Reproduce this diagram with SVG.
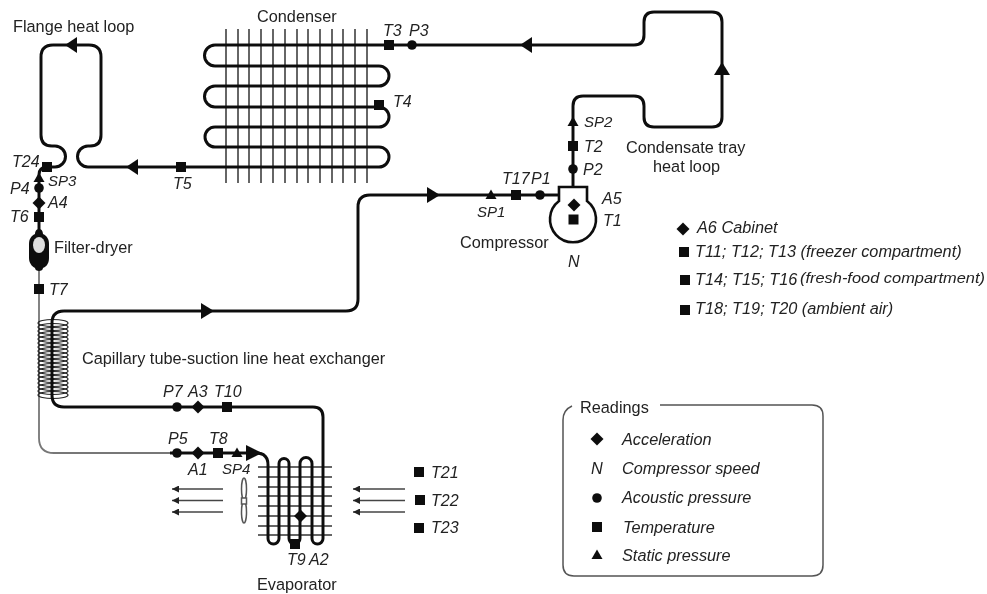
<svg xmlns="http://www.w3.org/2000/svg" width="987" height="594" viewBox="0 0 987 594">
<style>
text{font-family:"Liberation Sans",Arial,sans-serif;font-size:16.3px;fill:#222}
.i{font-style:italic;font-size:16px}
.s{font-style:italic;font-size:15px}
.l{font-style:italic;font-size:16.3px}
.tube{fill:none;stroke:#111;stroke-width:3}
.fin{fill:none;stroke:#666;stroke-width:2}
.thin{fill:none;stroke:#777;stroke-width:1.8}
.coil{fill:none;stroke:#222;stroke-width:1.2}
.air{stroke:#444;stroke-width:1.6;marker-start:url(#h)}
.k{fill:#111}
</style>
<defs>
<filter id="soft" x="0" y="0" width="100%" height="100%"><feGaussianBlur stdDeviation="0.45"/></filter>
<marker id="h" viewBox="0 0 8 8" refX="0" refY="4" markerWidth="7" markerHeight="7" markerUnits="userSpaceOnUse" orient="0"><path d="M8 0V8L0 4Z" fill="#222"/></marker>
<rect id="sq" x="-5" y="-5" width="10" height="10" fill="#111"/>
<circle id="ci" r="4.800" fill="#111"/>
<path id="di" d="M0-6.500L6.500 0L0 6.500L-6.500 0Z" fill="#111"/>
<path id="tr" d="M0-5.500L5.500 4H-5.500Z" fill="#111"/>
</defs>
<rect width="987" height="594" fill="#fff"/>
<g filter="url(#soft)">
<g id="connectors">
<g id="condenser-fins" class="fin">
<path d="M226 29V183M238 29V183M249 29V183M261 29V183M273 29V183M285 29V183M297 29V183M308 29V183M320 29V183M332 29V183M343 29V183M355 29V183M367 29V183"/>
</g>
<g id="evaporator-fins" class="fin">
<path d="M258 467H332M258 477H332M258 487H332M258 496H332M258 506H332M258 516H332M258 526H332M258 535H332"/>
</g>
<path class="tube" d="M88 146A10.500 10.500 0 0 0 88 167H379A10 10 0 0 0 379 147H215A10 10 0 0 1 215 127H379A10 10 0 0 0 379 107H215A10.500 10.500 0 0 1 215 86H379A10 10 0 0 0 379 66H215A10.500 10.500 0 0 1 215 45H634Q644 45 644 35V22Q644 12 654 12H712Q722 12 722 22V117Q722 127 712 127H654Q644 127 644 117V106Q644 96 634 96H583Q573 96 573 106V187"/>
<path class="tube" d="M88 146H90Q101 146 101 135V57Q101 45 89 45H53Q41 45 41 57V135Q41 146 52 146H55A10.500 10.500 0 0 1 55 167H47Q39 167 39 175V232"/>
<path class="thin" d="M39 232V438Q39 453 54 453H170"/>
<g id="capillary-coil" class="coil">
<ellipse cx="53" cy="323" rx="15" ry="3.500"/><ellipse cx="53" cy="327" rx="15" ry="3.500"/><ellipse cx="53" cy="331" rx="15" ry="3.500"/><ellipse cx="53" cy="335" rx="15" ry="3.500"/><ellipse cx="53" cy="339" rx="15" ry="3.500"/><ellipse cx="53" cy="343" rx="15" ry="3.500"/><ellipse cx="53" cy="347" rx="15" ry="3.500"/><ellipse cx="53" cy="351" rx="15" ry="3.500"/><ellipse cx="53" cy="355" rx="15" ry="3.500"/><ellipse cx="53" cy="359" rx="15" ry="3.500"/><ellipse cx="53" cy="363" rx="15" ry="3.500"/><ellipse cx="53" cy="367" rx="15" ry="3.500"/><ellipse cx="53" cy="371" rx="15" ry="3.500"/><ellipse cx="53" cy="375" rx="15" ry="3.500"/><ellipse cx="53" cy="379" rx="15" ry="3.500"/><ellipse cx="53" cy="383" rx="15" ry="3.500"/><ellipse cx="53" cy="387" rx="15" ry="3.500"/><ellipse cx="53" cy="391" rx="15" ry="3.500"/><ellipse cx="53" cy="395" rx="15" ry="3.500"/>
</g>
<path class="tube" d="M559 195H370Q358 195 358 207V299Q358 311 346 311H64Q52 311 52 323V395Q52 407 64 407H313Q323 407 323 417V538.500A5.500 5.500 0 0 1 312 538.500V463.500A6 6 0 0 0 300 463.500V538.500A5.500 5.500 0 0 1 289 538.500V463.500A5 5 0 0 0 279 463.500V538.500A5.500 5.500 0 0 1 268 538.500V465Q268 453 256 453H170"/>
<g id="airflow">
<path class="air" d="M172 489H223"/><path class="air" d="M172 500.500H223"/><path class="air" d="M172 512H223"/>
<path class="air" d="M353 489H405"/><path class="air" d="M353 500.500H405"/><path class="air" d="M353 512H405"/>
</g>
<g id="flow-arrows" class="k">
<path d="M65 45L77 37V53Z"/>
<path d="M126 167L138 159V175Z"/>
<path d="M520 45L532 37V53Z"/>
<path d="M714 75H730L722 62Z"/>
<path d="M427 187L440 195L427 203Z"/>
<path d="M201 303L214 311L201 319Z"/>
<path d="M246 445L262 453L246 461Z"/>
</g>
</g>
<g id="compressor">
<path d="M559 201V187H587V201A23 23 0 1 1 559 201Z" fill="#fff" stroke="#111" stroke-width="2.600"/>
<use href="#di" x="574" y="205"/><use href="#sq" x="573.500" y="219.500"/>
<text class="i" x="602" y="204">A5</text><text class="i" x="603" y="226">T1</text>
<text x="460" y="248">Compressor</text><text class="i" x="568" y="267">N</text>
</g>
<g id="filter-dryer">
<path d="M39 229C36 229 35 232 35 234C31 236 29 239 29 244V258C29 264 33 267 35 268C35 270 37 271 39 271C41 271 43 270 43 268C46 267 49 264 49 258V244C49 239 47 236 43 234C43 232 42 229 39 229Z" fill="#111"/>
<ellipse cx="39" cy="245" rx="6" ry="8" fill="#ddd"/>
<text x="54" y="253">Filter-dryer</text>
</g>
<g id="sensors">
<use href="#sq" x="47" y="167"/><use href="#tr" x="39" y="178"/><use href="#ci" x="39" y="188"/><use href="#di" x="39" y="203"/><use href="#sq" x="39" y="217"/><use href="#sq" x="39" y="289"/>
<use href="#sq" x="181" y="167"/><use href="#sq" x="389" y="45"/><use href="#ci" x="412" y="45"/><use href="#sq" x="379" y="105"/>
<use href="#tr" x="573" y="122"/><use href="#sq" x="573" y="146"/><use href="#ci" x="573" y="169"/>
<use href="#tr" x="491" y="195"/><use href="#sq" x="516" y="195"/><use href="#ci" x="540" y="195"/>
<use href="#ci" x="177" y="407"/><use href="#di" x="198" y="407"/><use href="#sq" x="227" y="407"/>
<use href="#ci" x="177" y="453"/><use href="#di" x="198" y="453"/><use href="#sq" x="218" y="453"/><use href="#tr" x="237" y="453"/>
<use href="#di" x="300.500" y="516"/><use href="#sq" x="295" y="544"/>
<use href="#sq" x="419" y="472"/><use href="#sq" x="420" y="500"/><use href="#sq" x="419" y="528"/>
</g>
<g id="fan" fill="#fff" stroke="#555" stroke-width="1.500">
<ellipse cx="244" cy="489" rx="2.500" ry="11"/><ellipse cx="244" cy="512" rx="2.500" ry="11"/><rect x="241.500" y="498" width="5" height="6"/>
</g>
<g id="labels">
<text x="13" y="32">Flange heat loop</text>
<text x="257" y="22">Condenser</text>
<text class="i" x="383" y="36">T3</text><text class="i" x="409" y="36">P3</text><text class="i" x="393" y="107">T4</text>
<text class="i" x="12" y="167">T24</text><text class="s" x="48" y="186">SP3</text><text class="i" x="10" y="194">P4</text><text class="i" x="48" y="208">A4</text><text class="i" x="10" y="222">T6</text><text class="i" x="49" y="295">T7</text>
<text class="i" x="173" y="189">T5</text>
<text class="s" x="584" y="127">SP2</text><text class="i" x="584" y="152">T2</text><text class="i" x="583" y="175">P2</text>
<text x="626" y="153">Condensate tray</text><text x="653" y="172">heat loop</text>
<text class="i" x="502" y="184">T17</text><text class="i" x="531" y="184">P1</text><text class="s" x="477" y="217">SP1</text>
<text x="82" y="364">Capillary tube-suction line heat exchanger</text>
<text class="i" x="163" y="397">P7</text><text class="i" x="188" y="397">A3</text><text class="i" x="214" y="397">T10</text>
<text class="i" x="168" y="444">P5</text><text class="i" x="209" y="444">T8</text><text class="i" x="188" y="475">A1</text><text class="s" x="222" y="474">SP4</text>
<text class="i" x="431" y="478">T21</text><text class="i" x="431" y="506">T22</text><text class="i" x="431" y="533">T23</text>
<text class="i" x="287" y="565">T9</text><text class="i" x="309" y="565">A2</text>
<text x="257" y="590">Evaporator</text>
</g>
<g id="cabinet-legend">
<use href="#di" x="683" y="229"/><text class="l" x="697" y="233">A6 Cabinet</text>
<use href="#sq" x="684" y="252"/><text class="l" x="695" y="257">T11; T12; T13 (freezer compartment)</text>
<use href="#sq" x="685" y="280"/><text class="l" x="695" y="285">T14; T15; T16</text><text class="l" x="800" y="283" style="font-size:15px" textLength="185" lengthAdjust="spacingAndGlyphs">(fresh-food compartment)</text>
<use href="#sq" x="685" y="310"/><text class="l" x="695" y="314">T18; T19; T20 (ambient air)</text>
</g>
<g id="readings">
<path d="M572 406Q563 410 563 420V565Q563 576 574 576H812Q823 576 823 565V416Q823 405 812 405H660" fill="none" stroke="#555" stroke-width="1.500"/>
<text x="580" y="413">Readings</text>
<use href="#di" x="597" y="439"/><text class="l" x="622" y="445">Acceleration</text>
<text class="l" x="591" y="474">N</text><text class="l" x="622" y="474">Compressor speed</text>
<use href="#ci" x="597" y="498"/><text class="l" x="622" y="503">Acoustic pressure</text>
<use href="#sq" x="597" y="527"/><text class="l" x="623" y="533">Temperature</text>
<use href="#tr" x="597" y="555"/><text class="l" x="622" y="561">Static pressure</text>
</g>
</g>
</svg>
